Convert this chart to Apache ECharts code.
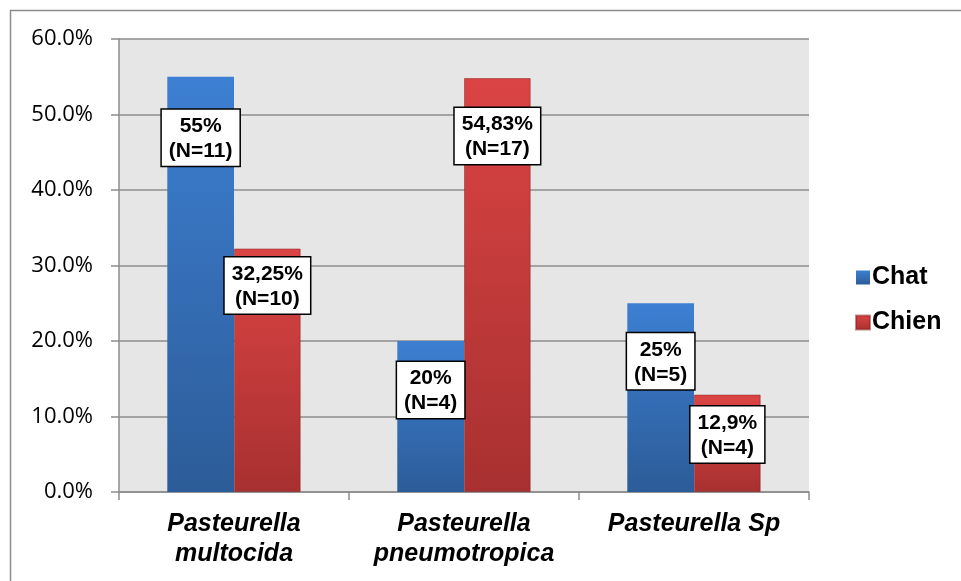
<!DOCTYPE html>
<html>
<head>
<meta charset="utf-8">
<script src="https://cdn.jsdelivr.net/npm/echarts@6/dist/echarts.min.js"></script>
<style>
  html, body { margin: 0; padding: 0; background: #fff; }
  #chart { width: 961px; height: 581px; }
</style>
</head>
<body>
<div id="chart"></div>
<script>
// Categories (species) and the two series (share of isolates, %)
const categories = ['Pasteurella\nmultocida', 'Pasteurella\npneumotropica', 'Pasteurella Sp'];
const seriesNames = ['Chat', 'Chien'];
const chatValues = [55, 20, 25];
const chienValues = [32.25, 54.83, 12.9];
const chatCounts = [11, 4, 5];
const chienCounts = [10, 17, 4];
const chatText = ['55%', '20%', '25%'];
const chienText = ['32,25%', '54,83%', '12,9%'];
const yTicks = [0, 10, 20, 30, 40, 50, 60];

// How far each value box sits below the top of its bar (px)
const chatDrop = [33, 21, 30];
const chienDrop = [9, 30, 12];

const chart = echarts.init(document.getElementById('chart'));

function grad(top, bottom) {
  return new echarts.graphic.LinearGradient(0, 0, 0, 1, [
    { offset: 0, color: top },
    { offset: 1, color: bottom }
  ]);
}

function buildData(values, texts, counts, drops) {
  return values.map((v, i) => ({
    value: v,
    label: {
      offset: [0, drops[i]],
      formatter: texts[i] + '\n(N=' + counts[i] + ')'
    }
  }));
}

const labelStyle = {
  show: true,
  position: 'insideTop',
  distance: 0,
  fontFamily: 'Liberation Sans, Arial, sans-serif',
  fontWeight: 'bold',
  fontSize: 21,
  lineHeight: 25,
  color: '#000',
  backgroundColor: '#fff',
  borderColor: '#000',
  borderWidth: 1.5,
  padding: [4, 7, 2, 7]
};

chart.setOption({
  animation: false,
  backgroundColor: '#fff',
  graphic: [{
    type: 'rect',
    shape: { x: 10.5, y: 10.5, width: 970, height: 600 },
    style: { fill: 'none', stroke: '#8c8c8c', lineWidth: 1.5 },
    silent: true,
    z: -10
  }],
  grid: {
    left: 119, right: 152, top: 39, bottom: 89,
    show: true, backgroundColor: '#e6e6e6', borderWidth: 0
  },
  legend: {
    orient: 'vertical',
    left: 850, top: 258,
    itemWidth: 14, itemHeight: 14, itemGap: 16,
    icon: 'rect',
    textStyle: {
      fontFamily: 'Liberation Sans, Arial, sans-serif',
      fontWeight: 'bold', fontSize: 25, lineHeight: 29, color: '#000', padding: [0, 0, 0, -3]
    },
    data: seriesNames
  },
  xAxis: {
    type: 'category',
    data: categories,
    axisLine: { lineStyle: { color: '#8c8c8c', width: 1.5 } },
    axisTick: { show: true, alignWithLabel: false, length: 8, lineStyle: { color: '#8c8c8c', width: 1.5 } },
    axisLabel: {
      interval: 0,
      hideOverlap: false,
      margin: 17,
      fontFamily: 'Liberation Sans, Arial, sans-serif',
      fontWeight: 'bold', fontStyle: 'italic', fontSize: 25, lineHeight: 30, color: '#000'
    }
  },
  yAxis: {
    type: 'value',
    min: yTicks[0], max: yTicks[yTicks.length - 1], interval: 10,
    axisLine: { show: true, lineStyle: { color: '#8c8c8c', width: 1.5 } },
    axisTick: { show: true, length: 8, lineStyle: { color: '#8c8c8c', width: 1.5 } },
    splitLine: { lineStyle: { color: '#8c8c8c', width: 1.5 } },
    axisLabel: {
      margin: 26,
      fontFamily: 'Open Sans, Liberation Sans, sans-serif',
      fontSize: 22, color: '#000',
      formatter: v => v.toFixed(1) + '%'
    }
  },
  series: [
    {
      name: seriesNames[0], type: 'bar',
      barGap: '0%', barCategoryGap: '42%',
      itemStyle: { color: grad('#3d7fd2', '#2c5c98') },
      label: labelStyle,
      data: buildData(chatValues, chatText, chatCounts, chatDrop)
    },
    {
      name: seriesNames[1], type: 'bar',
      barGap: '0%', barCategoryGap: '42%',
      itemStyle: { color: grad('#db4444', '#a83030'), borderColor: 'rgba(140,30,30,0.5)', borderWidth: 1 },
      label: labelStyle,
      data: buildData(chienValues, chienText, chienCounts, chienDrop)
    }
  ]
});
</script>
</body>
</html>
